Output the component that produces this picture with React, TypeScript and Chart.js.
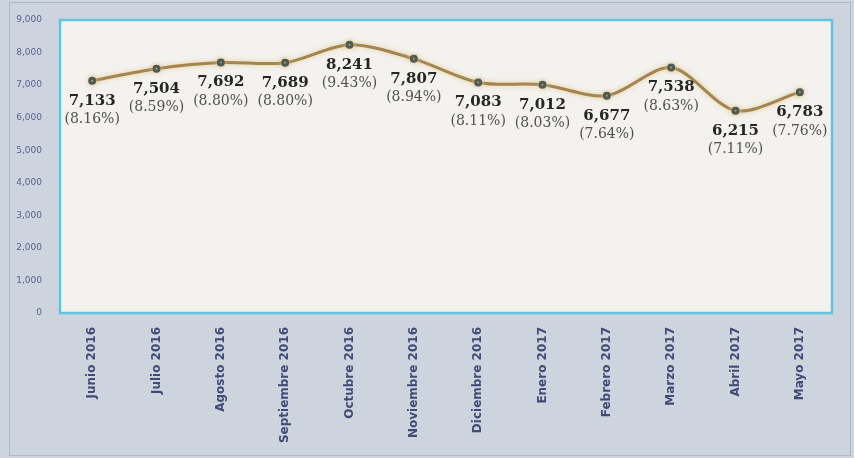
import React, { useEffect, useRef } from "react";
import { Chart, registerables } from "chart.js";

Chart.register(...registerables);

const categories = [
  "Junio 2016", "Julio 2016", "Agosto 2016", "Septiembre 2016", "Octubre 2016", "Noviembre 2016",
  "Diciembre 2016", "Enero 2017", "Febrero 2017", "Marzo 2017", "Abril 2017", "Mayo 2017",
];
const values = [7133, 7504, 7692, 7689, 8241, 7807, 7083, 7012, 6677, 7538, 6215, 6783];
const percents = ["(8.16%)", "(8.59%)", "(8.80%)", "(8.80%)", "(9.43%)", "(8.94%)", "(8.11%)", "(8.03%)", "(7.64%)", "(8.63%)", "(7.11%)", "(7.76%)"];
const yTicks = [0, 1000, 2000, 3000, 4000, 5000, 6000, 7000, 8000, 9000];

const framePlugin = {
  id: "frame",
  beforeDraw(chart: any) {
    const { ctx, width, height, chartArea } = chart;
    ctx.save();
    ctx.fillStyle = "#cdd4de";
    ctx.fillRect(0, 0, width, height);
    ctx.strokeStyle = "#aeb8c6";
    ctx.lineWidth = 1;
    ctx.strokeRect(9.5, 2.5, width - 13, height - 5);
    ctx.fillStyle = "#f3f2ee";
    ctx.fillRect(chartArea.left, chartArea.top, chartArea.right - chartArea.left, chartArea.bottom - chartArea.top);
    ctx.restore();
  },
  beforeDatasetsDraw(chart: any) {
    const { ctx } = chart;
    ctx.save();
    ctx.shadowColor = "rgba(225,200,145,0.95)";
    ctx.shadowBlur = 5;
  },
  afterDatasetsDraw(chart: any) {
    chart.ctx.restore();
  },
  afterDraw(chart: any) {
    const { ctx, chartArea } = chart;
    ctx.save();
    ctx.strokeStyle = "#62c4de";
    ctx.lineWidth = 2.5;
    ctx.strokeRect(chartArea.left, chartArea.top, chartArea.right - chartArea.left, chartArea.bottom - chartArea.top);
    ctx.restore();
  },
};

const labelPlugin = {
  id: "valueLabels",
  afterDatasetsDraw(chart: any) {
    const { ctx } = chart;
    const meta = chart.getDatasetMeta(0);
    ctx.save();
    ctx.shadowColor = "transparent";
    ctx.shadowBlur = 0;
    ctx.textAlign = "center";
    ctx.textBaseline = "middle";
    meta.data.forEach((pt: any, i: number) => {
      const x = pt.x;
      const y = pt.y;
      ctx.font = "bold 15px 'DejaVu Serif'";
      ctx.fillStyle = "#262626";
      ctx.fillText(values[i].toLocaleString("en-US"), x, y + 20);
      ctx.font = "14px 'DejaVu Serif'";
      ctx.fillStyle = "#505050";
      ctx.fillText(percents[i], x, y + 39);
    });
    ctx.restore();
  },
};

export default function App() {
  const ref = useRef<HTMLCanvasElement>(null);
  useEffect(() => {
    document.body.style.margin = "0";
    const chart = new Chart(ref.current!, {
      type: "line",
      data: {
        labels: categories,
        datasets: [
          {
            data: values,
            borderColor: "#a5854f",
            borderWidth: 3,
            tension: 0.3,
            pointRadius: 2.5,
            pointBackgroundColor: "#4f5a54",
            pointBorderColor: "#4f5a54",
          },
        ],
      },
      options: {
        animation: false,
        responsive: false,
        layout: { padding: { top: 20, right: 22, left: 0, bottom: 0 } },
        plugins: { legend: { display: false }, tooltip: { enabled: false } },
        scales: {
          x: {
            offset: true,
            grid: { display: false },
            border: { display: false },
            ticks: {
              minRotation: 90,
              maxRotation: 90,
              color: "#424a78",
              font: { family: "'DejaVu Sans'", size: 12, weight: "bold" },
              padding: 6,
            },
            afterFit(s: any) {
              s.height = 145;
            },
          },
          y: {
            min: 0,
            max: 9000,
            afterBuildTicks(s: any) {
              s.ticks = yTicks.map((v) => ({ value: v }));
            },
            grid: { display: false },
            border: { display: false },
            ticks: {
              color: "#5a6394",
              font: { family: "'DejaVu Sans'", size: 9 },
              padding: 10,
              callback: (v: any) => Number(v).toLocaleString("en-US"),
            },
            afterFit(s: any) {
              s.width = 60;
            },
          },
        },
      },
      plugins: [framePlugin, labelPlugin],
    });
    return () => chart.destroy();
  }, []);
  return (
    <div style={{ position: "absolute", left: 0, top: 0, width: 854, height: 458 }}>
      <canvas ref={ref} width={854} height={458} style={{ display: "block" }} />
    </div>
  );
}
